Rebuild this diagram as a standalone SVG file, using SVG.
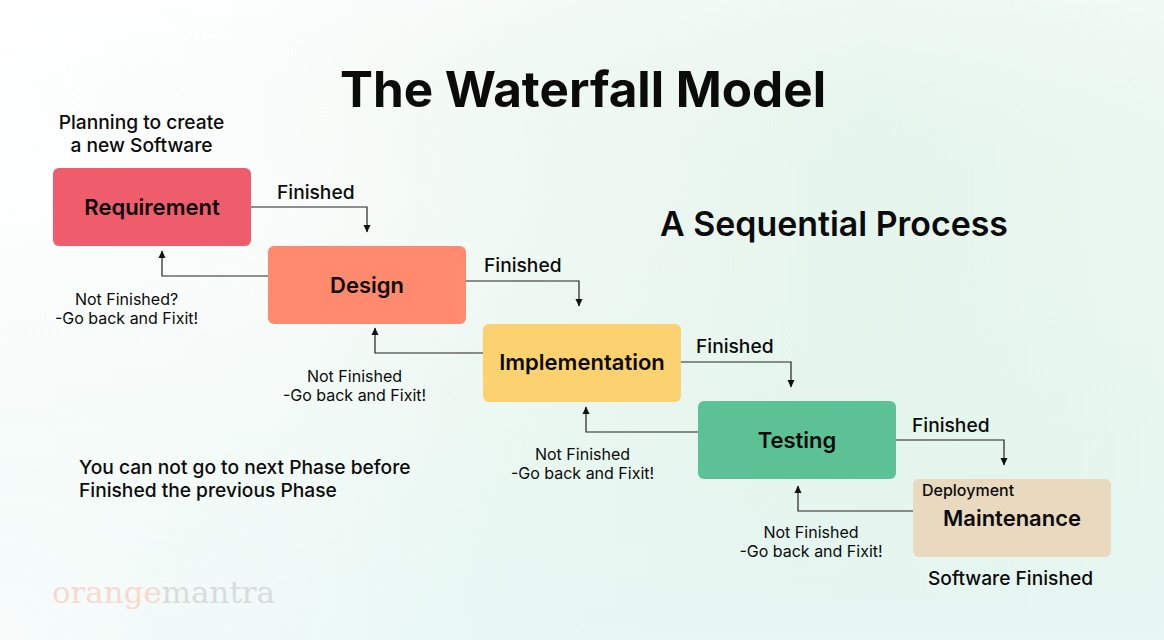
<svg xmlns="http://www.w3.org/2000/svg" width="1164" height="640" viewBox="0 0 1164 640">
<defs>
<linearGradient id="bg" x1="0" y1="0" x2="1" y2="0"><stop offset="0" stop-color="#ffffff"/><stop offset="0.22" stop-color="#fbfdfc"/><stop offset="0.48" stop-color="#eef8f2"/><stop offset="0.75" stop-color="#e5f5ec"/><stop offset="1" stop-color="#eaf7f0"/></linearGradient>
<linearGradient id="bg2" x1="0" y1="0" x2="0" y2="1"><stop offset="0" stop-color="#ffffff" stop-opacity="0.35"/><stop offset="0.3" stop-color="#e8f6ee" stop-opacity="0"/><stop offset="0.65" stop-color="#e2f5ee" stop-opacity="0.35"/><stop offset="1" stop-color="#e6f7f4" stop-opacity="0.95"/></linearGradient>
<radialGradient id="bg3" gradientUnits="userSpaceOnUse" cx="0" cy="640" r="520"><stop offset="0" stop-color="#f7fcfb"/><stop offset="1" stop-color="#f7fcfb" stop-opacity="0"/></radialGradient>
<marker id="a" markerWidth="8" markerHeight="8" refX="7" refY="4" orient="auto" markerUnits="userSpaceOnUse"><path d="M0 0.500L7.500 4L0 7.500Z" fill="#111"/></marker>
</defs>
<style>
text{font-family:Inter,"Liberation Sans",sans-serif;fill:#0b0b0b}
.n{font-size:22px;font-weight:600;text-anchor:middle}
.l{font-size:19.2px;font-weight:500}
.m{text-anchor:middle}
.s{font-size:16px;text-anchor:middle}
.c{fill:none;stroke:#222;stroke-width:1.2;marker-end:url(#a)}
</style>
<rect width="1164" height="640" fill="url(#bg)"/>
<rect width="1164" height="640" fill="url(#bg2)"/>
<rect width="1164" height="640" fill="url(#bg3)"/>
<text x="583" y="107" font-size="49.4" font-weight="700" text-anchor="middle">The Waterfall Model</text>
<text x="834" y="236" font-size="33.9" font-weight="600" text-anchor="middle">A Sequential Process</text>
<g id="connectors">
<path class="c" d="M251 207H367V232"/><path class="c" d="M466 281H579V306"/><path class="c" d="M681 362H791V387"/><path class="c" d="M896 440H1004V465"/>
<path class="c" d="M268 276H162V251"/><path class="c" d="M483 353H375V328"/><path class="c" d="M698 432H586V407"/><path class="c" d="M913 511H798V486"/>
</g>
<g id="requirement"><rect x="53" y="168" width="198" height="78" rx="6" fill="#ef5c6c"/><text class="n" x="152" y="215">Requirement</text></g>
<g id="design"><rect x="268" y="246" width="198" height="78" rx="6" fill="#ff8a6e"/><text class="n" x="367" y="293">Design</text></g>
<g id="implementation"><rect x="483" y="324" width="198" height="78" rx="6" fill="#fbd26f"/><text class="n" x="582" y="370">Implementation</text></g>
<g id="testing"><rect x="698" y="401" width="198" height="78" rx="6" fill="#5cc296"/><text class="n" x="797" y="448">Testing</text></g>
<g id="maintenance"><rect x="913" y="479" width="198" height="78" rx="6" fill="#e9d9be"/><text x="922" y="496" font-size="16" font-weight="500">Deployment</text><text class="n" x="1012" y="526">Maintenance</text></g>
<text class="l m" x="141.500" y="129">Planning to create</text>
<text class="l m" x="141.500" y="152">a new Software</text>
<text class="l" x="277" y="199">Finished</text><text class="l" x="484" y="272">Finished</text><text class="l" x="696" y="353">Finished</text><text class="l" x="912" y="432">Finished</text>
<text class="s" x="126.500" y="305">Not Finished?</text><text class="s" x="126.500" y="324">-Go back and Fixit!</text>
<text class="s" x="354.500" y="382">Not Finished</text><text class="s" x="354.500" y="401">-Go back and Fixit!</text>
<text class="s" x="582.500" y="460">Not Finished</text><text class="s" x="582.500" y="479">-Go back and Fixit!</text>
<text class="s" x="811" y="538">Not Finished</text><text class="s" x="811" y="557">-Go back and Fixit!</text>
<text class="l" x="79" y="474">You can not go to next Phase before</text>
<text class="l" x="79" y="497">Finished the previous Phase</text>
<text class="l m" x="1010.500" y="585">Software Finished</text>
<text x="52" y="603" font-size="30" style="font-family:'DejaVu Serif',serif" textLength="223" lengthAdjust="spacingAndGlyphs"><tspan style="fill:#f9d9cf">orange</tspan><tspan style="fill:#d9dcdb">mantra</tspan></text>
</svg>
